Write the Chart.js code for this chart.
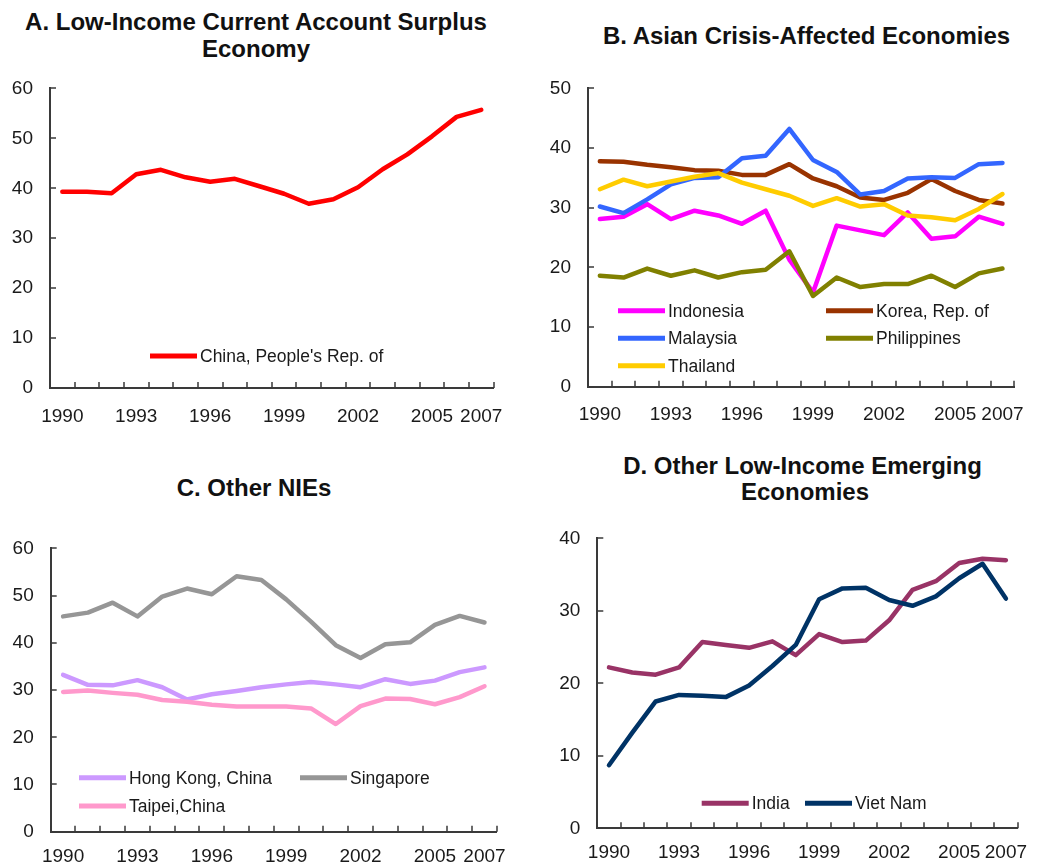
<!DOCTYPE html>
<html><head><meta charset="utf-8">
<script src="https://cdn.jsdelivr.net/npm/chart.js@4.4.0/dist/chart.umd.min.js"></script>
<style>
html,body{margin:0;padding:0;background:#fff;}
body{width:1041px;height:867px;position:relative;overflow:hidden;font-family:"Liberation Sans",Arial,sans-serif;}
canvas{position:absolute;}
.t{position:absolute;font-weight:bold;font-size:24px;line-height:24px;color:#111;text-align:center;white-space:nowrap;width:600px;}
</style></head><body>
<div class="t" style="left:-44px;top:10.4px">A. Low-Income Current Account Surplus</div>
<div class="t" style="left:-44px;top:37px">Economy</div>
<div class="t" style="left:506.5px;top:23.7px">B. Asian Crisis-Affected Economies</div>
<div class="t" style="left:-46px;top:476.4px">C. Other NIEs</div>
<div class="t" style="left:502.5px;top:454px">D. Other Low-Income Emerging</div>
<div class="t" style="left:505px;top:480px">Economies</div>
<canvas id="cA" width="520" height="380" style="left:0;top:60px"></canvas>
<canvas id="cB" width="521" height="380" style="left:520px;top:60px"></canvas>
<canvas id="cC" width="520" height="347" style="left:0;top:520px"></canvas>
<canvas id="cD" width="521" height="357" style="left:520px;top:510px"></canvas>
<script>
// ---- data ----
const years = ['1990','1991','1992','1993','1994','1995','1996','1997','1998','1999','2000','2001','2002','2003','2004','2005','2006','2007'];
const shownYears = ['1990','1993','1996','1999','2002','2005','2007'];

const china = [39.3,39.3,39.0,42.8,43.7,42.2,41.3,41.9,40.4,38.9,36.9,37.8,40.2,43.8,46.8,50.4,54.3,55.7];

const indonesia = [28.1,28.5,30.6,28.1,29.5,28.7,27.3,29.5,21.3,15.8,27.0,26.2,25.4,29.2,24.8,25.2,28.5,27.3];
const korea = [37.8,37.7,37.2,36.8,36.3,36.2,35.5,35.5,37.3,34.9,33.6,31.7,31.3,32.5,34.8,32.8,31.3,30.7];
const malaysia = [30.2,29.1,31.4,33.9,35.0,35.1,38.3,38.7,43.2,38.0,36.0,32.2,32.8,34.9,35.1,35.0,37.3,37.5];
const philippines = [18.6,18.3,19.8,18.6,19.5,18.3,19.2,19.6,22.7,15.2,18.3,16.7,17.2,17.2,18.6,16.7,19.0,19.8];
const thailand = [33.1,34.7,33.6,34.4,35.2,35.8,34.2,33.1,32.0,30.3,31.6,30.2,30.6,28.7,28.4,27.9,29.8,32.3];

const hongKong = [33.2,31.1,31.0,32.1,30.6,28.0,29.1,29.8,30.6,31.2,31.7,31.2,30.6,32.3,31.3,32.0,33.8,34.8];
const singapore = [45.6,46.4,48.5,45.6,49.8,51.5,50.3,54.1,53.3,49.2,44.5,39.5,36.8,39.7,40.1,43.8,45.7,44.3];
const taipei = [29.6,29.9,29.4,29.0,27.9,27.5,26.9,26.5,26.5,26.5,26.1,22.8,26.6,28.2,28.1,27.0,28.5,30.8];

const india = [22.2,21.5,21.2,22.2,25.7,25.3,24.9,25.8,23.9,26.8,25.7,25.9,28.7,32.9,34.1,36.6,37.2,37.0];
const vietNam = [8.7,13.2,17.5,18.4,18.3,18.1,19.7,22.4,25.3,31.6,33.1,33.2,31.5,30.7,32.0,34.5,36.5,31.7];

// ---- styling ----
const FONT = '"Liberation Sans", Arial, sans-serif';
const TXT = '#1a1a1a';
const AXIS = '#3a3a3a';

const insideTicks = {
  id: 'insideTicks',
  afterDatasetsDraw(chart, args, opts) {
    const {ctx, chartArea: ca, scales: {x, y}} = chart;
    ctx.save();
    ctx.strokeStyle = opts.color; ctx.lineWidth = opts.width;
    ctx.beginPath();
    y.ticks.forEach(t => {
      const py = Math.round(y.getPixelForValue(t.value));
      ctx.moveTo(ca.left, py); ctx.lineTo(ca.left + opts.len, py);
    });
    const n = chart.data.labels.length;
    for (let i = 0; i <= n; i++) {
      const px = Math.round(x.getPixelForValue(i - 0.5));
      ctx.moveTo(px, ca.bottom); ctx.lineTo(px, ca.bottom - opts.len);
    }
    ctx.stroke();
    ctx.restore();
  }
};

const inLegend = {
  id: 'inLegend',
  afterDraw(chart, args, opts) {
    const ctx = chart.ctx;
    ctx.save();
    ctx.font = opts.font;
    ctx.textBaseline = 'middle';
    ctx.fillStyle = opts.textColor;
    opts.items.forEach(it => {
      const ds = chart.data.datasets[it.i];
      ctx.strokeStyle = ds.borderColor;
      ctx.lineWidth = opts.lineWidth;
      ctx.lineCap = 'butt';
      ctx.beginPath(); ctx.moveTo(it.x, it.y); ctx.lineTo(it.x + opts.len, it.y); ctx.stroke();
      ctx.fillText(ds.label, it.x + opts.len + opts.gap, it.y + 1);
    });
    ctx.restore();
  }
};

function makeChart(id, cfg) {
  const n = cfg.series.length;
  return new Chart(document.getElementById(id), {
    type: 'line',
    data: {
      labels: years,
      datasets: cfg.series.map((s, i) => ({
        label: s.label, data: s.data, borderColor: s.color, backgroundColor: s.color,
        borderWidth: 4.5, pointRadius: 0, tension: 0, fill: false, order: n - i,
        borderJoinStyle: 'round', borderCapStyle: 'round'
      }))
    },
    options: {
      responsive: false, animation: false, devicePixelRatio: 1,
      layout: { autoPadding: false, padding: cfg.pad },
      plugins: {
        legend: { display: false }, tooltip: { enabled: false }, title: { display: false },
        insideTicks: { color: AXIS, width: 1.5, len: 6 },
        inLegend: { font: '17.5px ' + FONT, textColor: TXT, lineWidth: 5, len: 47, gap: 3, items: cfg.legend }
      },
      scales: {
        x: {
          type: 'category', offset: true,
          grid: { display: false, drawTicks: false, offset: true },
          border: { display: true, color: AXIS, width: 2 },
          ticks: {
            autoSkip: false, maxRotation: 0, minRotation: 0, padding: cfg.xPad, color: TXT,
            font: { family: FONT, size: 19 },
            callback(v) { const l = this.getLabelForValue(v); return shownYears.includes(l) ? l : ''; }
          },
          afterFit(s) { s.height = cfg.xH; }
        },
        y: {
          min: 0, max: cfg.max,
          grid: { display: false, drawTicks: false },
          border: { display: true, color: AXIS, width: 2 },
          ticks: { stepSize: 10, padding: 17, color: TXT, font: { family: FONT, size: 19 } },
          afterFit(s) { s.width = cfg.yW; }
        }
      }
    },
    plugins: [insideTicks, inLegend]
  });
}

makeChart('cA', {
  series: [{ label: "China, People's Rep. of", data: china, color: '#FF0000' }],
  max: 60, yW: 50, xH: 52, xPad: 17, pad: { left: 0, top: 25, right: 22, bottom: 0 },
  legend: [{ i: 0, x: 150, y: 296 }]
});

makeChart('cB', {
  series: [
    { label: 'Indonesia', data: indonesia, color: '#FF00FF' },
    { label: 'Korea, Rep. of', data: korea, color: '#993300' },
    { label: 'Malaysia', data: malaysia, color: '#3366FF' },
    { label: 'Philippines', data: philippines, color: '#808000' },
    { label: 'Thailand', data: thailand, color: '#FFCC00' }
  ],
  max: 50, yW: 68, xH: 53.3, xPad: 17, pad: { left: 0, top: 21.7, right: 14, bottom: 0 },
  legend: [
    { i: 0, x: 98, y: 250.7 }, { i: 1, x: 306, y: 250.7 },
    { i: 2, x: 98, y: 278.3 }, { i: 3, x: 306, y: 278.3 },
    { i: 4, x: 98, y: 305.7 }
  ]
});

makeChart('cC', {
  series: [
    { label: 'Hong Kong, China', data: hongKong, color: '#CC99FF' },
    { label: 'Singapore', data: singapore, color: '#969696' },
    { label: 'Taipei,China', data: taipei, color: '#FF99CC' }
  ],
  max: 60, yW: 50.7, xH: 35.3, xPad: 14, pad: { left: 0, top: 20.7, right: 13.3, bottom: 0 },
  legend: [
    { i: 0, x: 79, y: 257.7 }, { i: 1, x: 300, y: 257.7 },
    { i: 2, x: 79, y: 286 }
  ]
});

makeChart('cD', {
  series: [
    { label: 'India', data: india, color: '#993366' },
    { label: 'Viet Nam', data: vietNam, color: '#003366' }
  ],
  max: 40, yW: 77.3, xH: 38.7, xPad: 13.5, pad: { left: 0, top: 20.7, right: 16.7, bottom: 0 },
  legend: [
    { i: 0, x: 181.7, y: 293.3 }, { i: 1, x: 285, y: 293.3 }
  ]
});
</script>
</body></html>
